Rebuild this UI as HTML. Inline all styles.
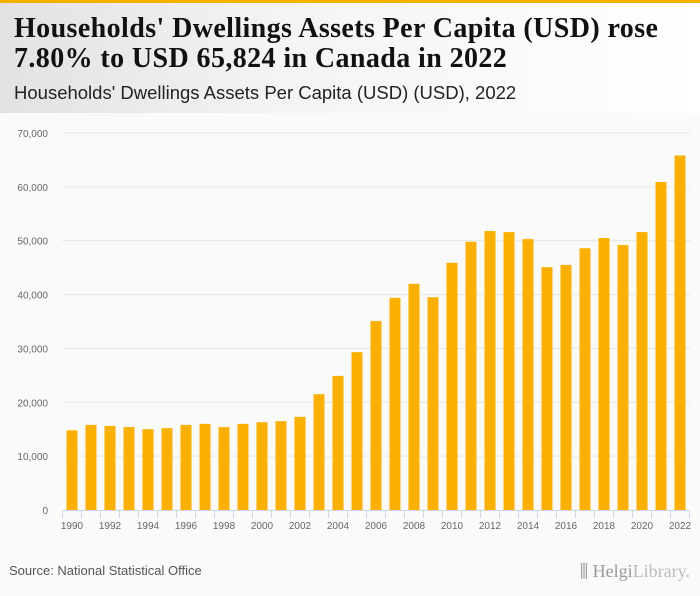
<!DOCTYPE html>
<html><head><meta charset="utf-8"><style>
body{margin:0;width:700px;height:596px;background:#fafafa;font-family:"Liberation Sans",sans-serif;overflow:hidden;position:relative}
#topbar{position:absolute;left:0;top:0;width:700px;height:3px;background:#f7b000}
#header{position:absolute;left:0;top:3px;width:700px;height:110px;background:linear-gradient(90deg,#e2e2e2 0%,#f4f4f4 40%,#fff 100%)}
#title{position:absolute;left:14px;top:11px;font-family:"Liberation Serif",serif;font-weight:bold;font-size:28px;line-height:30px;color:#111;letter-spacing:0.4px;white-space:nowrap}
#subtitle{position:absolute;left:14px;top:79px;font-size:18.5px;color:#222;white-space:nowrap}
#source{position:absolute;left:9px;top:563px;font-size:13px;color:#555}
#logo{position:absolute;right:10px;top:561px;font-family:"Liberation Serif",serif;font-size:18px;color:#999}
</style></head><body>
<div id="topbar"></div>
<div id="header">
<div id="title">Households' Dwellings Assets Per Capita (USD) rose<br>7.80% to USD 65,824 in Canada in 2022</div>
<div id="subtitle">Households' Dwellings Assets Per Capita (USD) (USD), 2022</div>
</div>
<svg id="chart" width="700" height="596" style="position:absolute;left:0;top:0"></svg>
<div id="source">Source: National Statistical Office</div>
<div id="logo">⫼ Helgi<span style="color:#bbb">Library.</span></div>
<script>
const years=[1990,1991,1992,1993,1994,1995,1996,1997,1998,1999,2000,2001,2002,2003,2004,2005,2006,2007,2008,2009,2010,2011,2012,2013,2014,2015,2016,2017,2018,2019,2020,2021,2022];
const values=[14800,15800,15600,15400,15000,15200,15800,16000,15400,16000,16300,16500,17300,21500,24900,29300,35100,39400,42000,39500,45900,49800,51800,51600,50300,45100,45500,48600,50500,49200,51600,60900,65824];
const yTicks=[0,10000,20000,30000,40000,50000,60000,70000];
const tickLabels=["0","10,000","20,000","30,000","40,000","50,000","60,000","70,000"];
const NS="http://www.w3.org/2000/svg";
const svg=document.getElementById('chart');
const x0=62.5,band=19,bw=11,yBase=510,yTop=133,yMax=70000;
const y=v=>yBase-(v/yMax)*(yBase-yTop);
const xc=i=>x0+band*i+band/2;
function mk(t,a){const e=document.createElementNS(NS,t);for(const k in a)e.setAttribute(k,a[k]);svg.appendChild(e);return e;}
yTicks.forEach((v,i)=>{
 if(v>0){const g=mk('line',{x1:x0,x2:690,y1:y(v),y2:y(v),stroke:'#e6e6e6','stroke-width':1});
 
 }
 const t=mk('text',{x:48,y:y(v)+4,'text-anchor':'end','font-size':10,fill:'#666','font-family':'Liberation Sans, sans-serif'});
 t.textContent=tickLabels[i];
 
 
});
values.forEach((v,i)=>{
 const r=mk('rect',{x:xc(i)-bw/2,y:y(v),width:bw,height:yBase-y(v),fill:'#f9b000'});
 
 
});
const ax=mk('line',{x1:x0,x2:x0+band*years.length,y1:yBase+0.5,y2:yBase+0.5,stroke:'#ccd6eb'});


for(let i=0;i<=years.length;i++){
 const tk=mk('line',{x1:x0+band*i,x2:x0+band*i,y1:yBase,y2:yBase+8,stroke:'#ccd6eb'});
 
 
}
years.forEach((yr,i)=>{
 if(i%2)return;
 const t=mk('text',{x:xc(i),y:yBase+19,'text-anchor':'middle','font-size':10,fill:'#666','font-family':'Liberation Sans, sans-serif'});
 t.textContent=yr;
 
 
});
</script>
</body></html>
